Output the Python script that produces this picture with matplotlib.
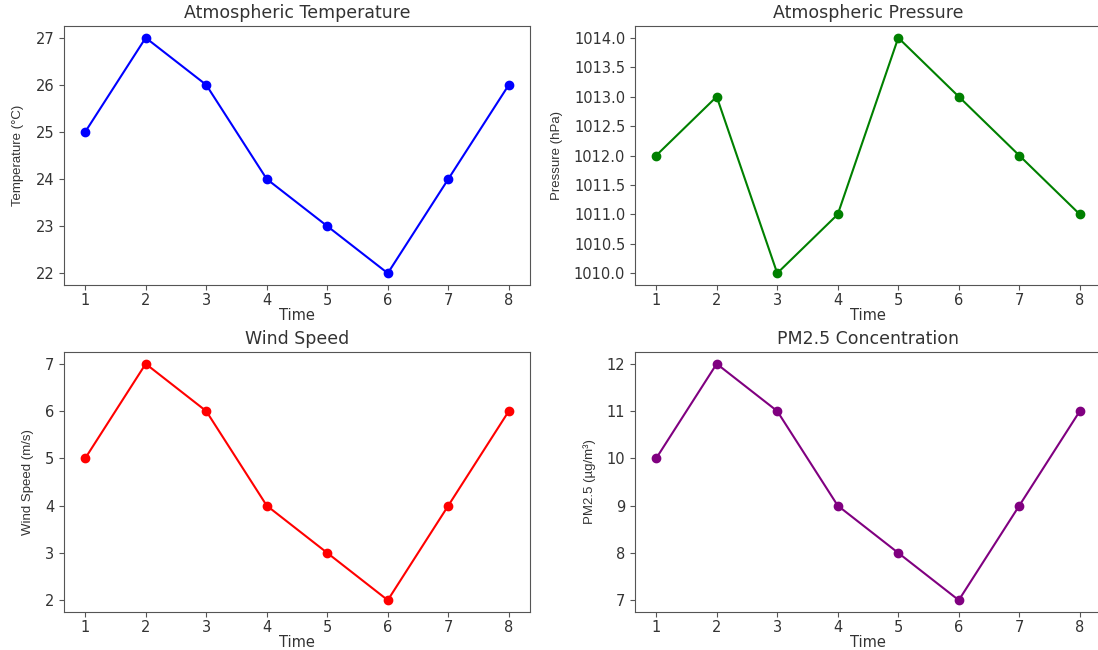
import matplotlib.pyplot as plt
from matplotlib.ticker import MultipleLocator

# Data for the charts
time = [1, 2, 3, 4, 5, 6, 7, 8]
temperature = [25, 27, 26, 24, 23, 22, 24, 26]
pressure = [1012, 1013, 1010, 1011, 1014, 1013, 1012, 1011]
wind_speed = [5, 7, 6, 4, 3, 2, 4, 6]
pm25 = [10, 12, 11, 9, 8, 7, 9, 11]

plt.rcParams['font.family'] = ['DejaVu Sans']

W, H = 1098, 650
fig = plt.figure(figsize=(W / 100, H / 100), dpi=100)


def box(left, top, right, bottom):
    return [left / W, 1 - bottom / H, (right - left) / W, (bottom - top) / H]


panels = [
    (box(64, 26, 530, 285), temperature, 'blue', 'Atmospheric Temperature', 'Temperature (°C)', 1),
    (box(635, 26, 1101, 285), pressure, 'green', 'Atmospheric Pressure', 'Pressure (hPa)', 0.5),
    (box(64, 352, 530, 612), wind_speed, 'red', 'Wind Speed', 'Wind Speed (m/s)', 1),
    (box(635, 352, 1101, 612), pm25, 'purple', 'PM2.5 Concentration', 'PM2.5 (µg/m³)', 1),
]

text_color = '#333333'

for rect, values, color, title, ylabel, step in panels:
    ax = fig.add_axes(rect)
    ax.plot(time, values, marker='o', color=color, linewidth=1.5, markersize=6)
    ax.set_title(title, fontsize=12.5, color=text_color)
    ax.set_xlabel('Time', fontsize=10.5, labelpad=0, color=text_color)
    ax.set_ylabel(ylabel, fontsize=9.5, family=['Liberation Sans', 'DejaVu Sans'],
                  labelpad=8, color=text_color)
    ax.set_xticks(time)
    ax.yaxis.set_major_locator(MultipleLocator(step))
    ax.tick_params(labelsize=10.5, labelcolor=text_color, color='#555555')
    ax.tick_params(axis='x', pad=2)
    for spine in ax.spines.values():
        spine.set_color('#555555')

fig.savefig('out.png', dpi=100)
